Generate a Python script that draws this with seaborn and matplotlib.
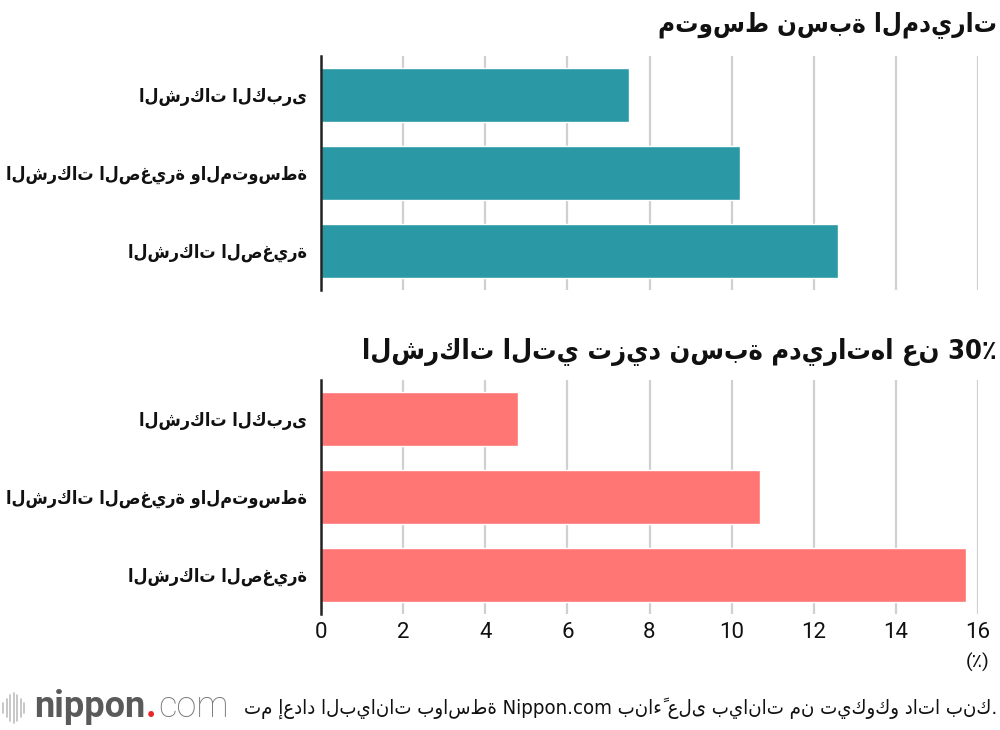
import matplotlib
matplotlib.use("Agg")
import matplotlib.pyplot as plt
from matplotlib.lines import Line2D
import seaborn as sns
import pandas as pd

# ---- data ----
categories = ["الشركات الكبرى", "الشركات الصغيرة والمتوسطة", "الشركات الصغيرة"]
avg_ratio = [7.5, 10.2, 12.6]          # متوسط نسبة المديرات
over30_share = [4.8, 10.7, 15.7]       # الشركات التي تزيد نسبة مديراتها عن 30٪
x_ticks = [0, 2, 4, 6, 8, 10, 12, 14, 16]
title_top = "متوسط نسبة المديرات"
title_bottom = "الشركات التي تزيد نسبة مديراتها عن 30٪"
unit_label = "(٪)"
source_text = "تم إعداد البيانات بواسطة Nippon.com بناءً على بيانات من تيكوكو داتا بنك."

sns.set_theme(style="white")
plt.rcParams['font.family'] = ['DejaVu Sans']
AR = dict(family=["DejaVu Sans"], stretch="condensed")

TEAL = "#2a99a5"
SALMON = "#ff7674"

fig = plt.figure(figsize=(10, 7.3), dpi=100)
W, H = 1000, 730

def ax_rect(x0, y0, x1, y1):
    return [x0 / W, 1 - y1 / H, (x1 - x0) / W, (y1 - y0) / H]

ax1 = fig.add_axes(ax_rect(321, 56, 978, 290))
ax2 = fig.add_axes(ax_rect(321, 380, 978, 614))

df1 = pd.DataFrame({"cat": categories, "val": avg_ratio})
df2 = pd.DataFrame({"cat": categories, "val": over30_share})

sns.barplot(data=df1, x="val", y="cat", color=TEAL, saturation=1, width=0.69, ax=ax1)
sns.barplot(data=df2, x="val", y="cat", color=SALMON, saturation=1, width=0.69, ax=ax2)

for ax, show_x in ((ax1, False), (ax2, True)):
    ax.set_xlim(0, 16)
    ax.set_ylim(2.5, -0.5)
    ax.set_xticks(x_ticks)
    ax.set_xlabel("")
    ax.set_ylabel("")
    for t in x_ticks[1:]:
        ax.axvline(t, color="#d0d0d0", lw=1.6, zorder=0)
    for s in ("top", "right", "bottom"):
        ax.spines[s].set_visible(False)
    ax.spines["left"].set_color("#222222")
    ax.spines["left"].set_linewidth(1.8)
    ax.tick_params(axis="y", length=0, pad=10)
    for lab in ax.get_yticklabels():
        lab.set_fontsize(13)
        lab.set_fontweight("bold")
        lab.set_fontstretch("condensed")
        lab.set_color("#111111")
    if show_x:
        ax.tick_params(axis="x", length=0, pad=6, labelsize=16, labelcolor="#111111")
        for lab in ax.get_xticklabels():
            lab.set_family(["Roboto", "DejaVu Sans"])
    else:
        ax.tick_params(axis="x", length=0, labelbottom=False)

fig.text(997 / W, 1 - 25 / H, title_top, ha="right", va="center",
         fontsize=18.5, fontweight="bold", color="#111111", **AR)
fig.text(997 / W, 1 - 352 / H, title_bottom, ha="right", va="center",
         fontsize=19.5, fontweight="bold", color="#111111", **AR)
fig.text(978 / W, 1 - 662 / H, unit_label, ha="center", va="center",
         fontsize=14, color="#111111", family=["Roboto", "DejaVu Sans"])
fig.text(997 / W, 1 - 708 / H, source_text, ha="right", va="center",
         fontsize=14.6, color="#111111", **AR)

# logo
bars_h = [10, 18, 26, 30, 26, 18, 10]
for i, hgt in enumerate(bars_h):
    x = (3 + i * 3.5) / W
    fig.add_artist(Line2D([x, x], [1 - (708 + hgt / 2) / H, 1 - (708 - hgt / 2) / H],
                          color="#bdbdbd", lw=1.2, transform=fig.transFigure))
renderer = fig.canvas.get_renderer()
t1 = fig.text(34 / W, 1 - 707 / H, "nippon", ha="left", va="center", fontsize=26,
              fontweight="bold", color="#5a5a5a", family=["Roboto", "DejaVu Sans"])
x_end = t1.get_window_extent(renderer).x1 / W
t2 = fig.text(x_end + 0.001, 1 - 707 / H, ".", ha="left", va="center", fontsize=26,
              fontweight="bold", color="#e8262a", family=["Roboto", "DejaVu Sans"])
x_end2 = t2.get_window_extent(renderer).x1 / W
fig.text(x_end2 + 0.001, 1 - 707 / H, "com", ha="left", va="center", fontsize=26,
         fontweight="light", color="#7a7a7a", family=["Roboto", "DejaVu Sans"])

fig.savefig("out.png", dpi=100)
